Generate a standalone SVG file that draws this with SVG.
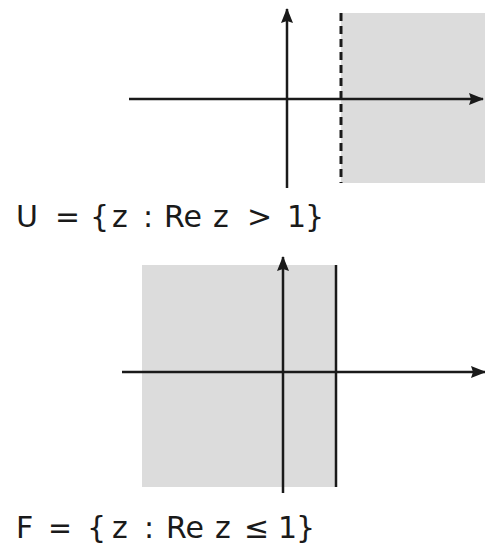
<svg xmlns="http://www.w3.org/2000/svg" width="485" height="550" viewBox="0 0 485 550">
  <style>
    .region { fill: #dcdcdc; }
    .axis { stroke: #1a1a1a; stroke-width: 2.5; fill: none; }
    .bound { stroke: #1a1a1a; stroke-width: 2.5; fill: none; }
    .dashed { stroke-width: 3; stroke-dasharray: 8 5; }
    .lbl { font-family: "DejaVu Sans", "Liberation Sans", sans-serif; font-size: 30px; fill: #1a1a1a; }
  </style>
  <defs>
    <marker id="arrow" viewBox="0 0 15 12" refX="14" refY="6" markerWidth="15" markerHeight="12" markerUnits="userSpaceOnUse" orient="auto">
      <path d="M0,0 L15,6 L0,12 L2,6 Z" fill="#1a1a1a"/>
    </marker>
  </defs>

  <g id="plane-U">
    <rect class="region" x="341" y="13" width="144" height="170"/>
    <line class="bound dashed" x1="341" y1="13" x2="341" y2="183"/>
    <g id="axes-U">
      <line class="axis" x1="129" y1="99" x2="483" y2="99" marker-end="url(#arrow)"/>
      <line class="axis" x1="287" y1="188" x2="287" y2="9" marker-end="url(#arrow)"/>
    </g>
  </g>

  <g id="label-U">
    <text class="lbl" y="227">
      <tspan x="16">U</tspan><tspan x="55" textLength="25" lengthAdjust="spacingAndGlyphs">=</tspan><tspan x="90">{</tspan><tspan x="112">z</tspan><tspan x="143">:</tspan><tspan x="164">Re</tspan><tspan x="213">z</tspan><tspan x="247">&gt;</tspan><tspan x="287">1</tspan><tspan x="305">}</tspan>
    </text>
  </g>

  <g id="plane-F">
    <rect class="region" x="142" y="265" width="195" height="222"/>
    <line class="bound" x1="336" y1="265" x2="336" y2="487"/>
    <g id="axes-F">
      <line class="axis" x1="122" y1="372" x2="485" y2="372" marker-end="url(#arrow)"/>
      <line class="axis" x1="283" y1="493" x2="283" y2="257" marker-end="url(#arrow)"/>
    </g>
  </g>

  <g id="label-F">
    <text class="lbl" y="538">
      <tspan x="16">F</tspan><tspan x="48" textLength="24" lengthAdjust="spacingAndGlyphs">=</tspan><tspan x="87">{</tspan><tspan x="112">z</tspan><tspan x="144">:</tspan><tspan x="166">Re</tspan><tspan x="215">z</tspan><tspan x="244">≤</tspan><tspan x="278">1</tspan><tspan x="296">}</tspan>
    </text>
  </g>
</svg>
